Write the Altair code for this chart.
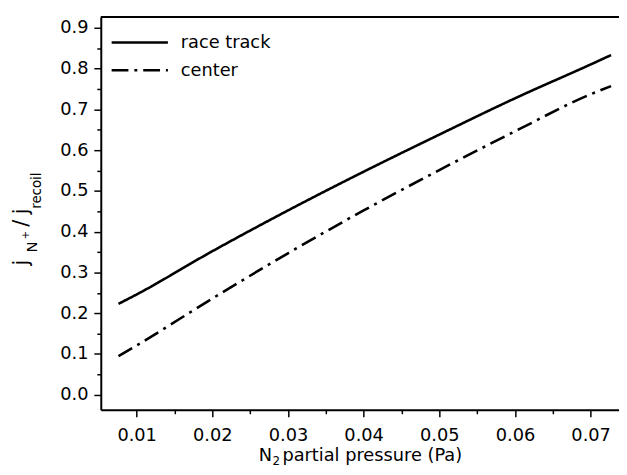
import altair as alt
import pandas as pd

# ---- data ----
pressure = [0.0076, 0.01, 0.02, 0.03, 0.04, 0.05, 0.06, 0.07, 0.0727]
race_track = [0.223, 0.246, 0.352, 0.452, 0.547, 0.638, 0.727, 0.810, 0.833]
center = [0.095, 0.121, 0.236, 0.347, 0.452, 0.551, 0.646, 0.737, 0.757]
series_names = ["race track", "center"]

x_ticks = [round(0.01 + 0.005 * i, 3) for i in range(14)]   # 0.01 .. 0.075 (majors + minors)
y_ticks = [round(0.05 * i, 2) for i in range(19)]           # 0.0 .. 0.9

W, H = 525, 398
FONT = "DejaVu Sans"

rows = []
for p, v in zip(pressure, race_track):
    rows.append({"pressure": p, "ratio": v, "series": series_names[0]})
for p, v in zip(pressure, center):
    rows.append({"pressure": p, "ratio": v, "series": series_names[1]})
df = pd.DataFrame(rows)

one = pd.DataFrame({"k": [0]})

x_major = "abs(datum.value*100 - round(datum.value*100)) < 0.001"
y_major = "abs(datum.value*10 - round(datum.value*10)) < 0.001"

x_axis = alt.Axis(
    values=x_ticks,
    labelExpr=f"{x_major} ? format(datum.value, '.2f') : ''",
    tickSize={"condition": {"test": x_major, "value": 7}, "value": 4},
    title=None,
    labelFontSize=18, labelFont=FONT, labelColor="black", labelPadding=10,
    labelFlush=False, labelOverlap=False,
    domainColor="black", domainWidth=2, tickColor="black", tickWidth=1.5,
    grid=False,
)
y_axis = alt.Axis(
    values=y_ticks,
    labelExpr=f"{y_major} ? format(datum.value, '.1f') : ''",
    tickSize={"condition": {"test": y_major, "value": 7}, "value": 4},
    title=None,
    labelFontSize=18, labelFont=FONT, labelColor="black", labelPadding=6,
    labelFlush=False, labelOverlap=False,
    domainColor="black", domainWidth=2, tickColor="black", tickWidth=1.5,
    grid=False,
)

lines = alt.Chart(df).mark_line(color="black", strokeWidth=2.6, interpolate="monotone").encode(
    x=alt.X("pressure:Q", scale=alt.Scale(domain=[0.00526, 0.07375], nice=False, zero=False), axis=x_axis),
    y=alt.Y("ratio:Q", scale=alt.Scale(domain=[-0.0368, 0.9266], nice=False, zero=False), axis=y_axis),
    strokeDash=alt.StrokeDash(
        "series:N",
        scale=alt.Scale(domain=series_names, range=[[1, 0], [16, 6, 3, 6]]),
        legend=None,
    ),
    detail="series:N",
)

# top frame line (right frame is outside the picture)
top_rule = alt.Chart(one).mark_rule(color="black", strokeWidth=2).encode(
    x=alt.value(0), x2=alt.value(W), y=alt.value(0)
)

# legend
leg_solid = alt.Chart(one).mark_rule(color="black", strokeWidth=2.6).encode(
    x=alt.value(11), x2=alt.value(68), y=alt.value(26)
)
leg_dash = alt.Chart(one).mark_rule(color="black", strokeWidth=2.6, strokeDash=[17, 6, 3, 6]).encode(
    x=alt.value(11), x2=alt.value(68), y=alt.value(54)
)

def txt(s, px, py, size, angle=0, align="left"):
    kw = dict(font=FONT, fontSize=size, align=align, baseline="alphabetic", color="black")
    if angle:
        kw["angle"] = angle
    return alt.Chart(one).mark_text(**kw).encode(
        x=alt.value(px - 102), y=alt.value(py - 14), text=alt.value(s)
    )

leg_t1 = txt(series_names[0], 183, 45, 18)
leg_t2 = txt(series_names[1], 183, 74, 18)

# x-axis title  N_2 partial pressure (Pa)
xtitle = [
    txt("N", 262, 464, 18),
    txt("2", 276, 468, 12),
    txt("partial pressure (Pa)", 286, 464, 18),
]

# y-axis title  j_{N+} / j_{recoil}  (rotated pieces)
ytitle = [
    txt("j", 28, 263, 21, 270, "center"),
    txt("N", 37, 247, 15, 270, "center"),
    txt("+", 29, 235, 10, 270, "center"),
    txt("/", 28, 223, 21, 270, "center"),
    txt("j", 28, 211, 21, 270, "center"),
    txt("recoil", 41, 190, 13.5, 270, "center"),
]

chart = alt.layer(lines, top_rule, leg_solid, leg_dash, leg_t1, leg_t2, *xtitle, *ytitle).properties(
    width=W, height=H,
    autosize=alt.AutoSizeParams(type="none"),
    padding={"left": 94, "top": 6, "right": 0, "bottom": 60},
).configure_view(stroke=None).configure(background="white")

chart.save("out.html", embed_options={"renderer": "svg", "actions": False})
